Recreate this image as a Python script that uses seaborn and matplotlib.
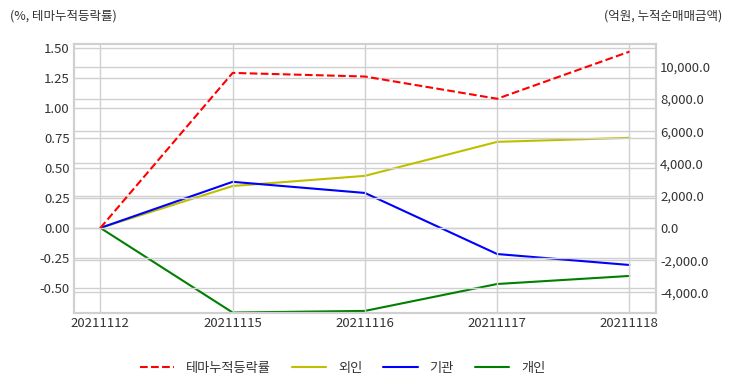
import matplotlib
matplotlib.use('Agg')
import matplotlib.pyplot as plt
import matplotlib.ticker as mticker
import seaborn as sns
import pandas as pd

# 데이터
dates = ['20211112', '20211115', '20211116', '20211117', '20211118']
theme_rate = [0.0, 1.29, 1.26, 1.075, 1.467]
foreign = [0.0, 2600.0, 3230.0, 5340.0, 5590.0]
institution = [0.0, 2860.0, 2170.0, -1620.0, -2300.0]
individual = [0.0, -5250.0, -5150.0, -3480.0, -2980.0]

sns.set_style('whitegrid')
plt.rcParams['font.family'] = ['Noto Sans CJK KR', 'DejaVu Sans']
plt.rcParams['axes.unicode_minus'] = False

df = pd.DataFrame({'date': dates, 'theme': theme_rate, 'foreign': foreign,
                   'inst': institution, 'indiv': individual})
df['x'] = range(len(df))

fig = plt.figure(figsize=(7.32, 3.92), dpi=100)
ax = fig.add_axes([0.101, 0.2015, 0.795, 0.687])
ax2 = ax.twinx()

grid_c = '#d0d0d0'
txt_c = '#333333'

sns.lineplot(data=df, x='x', y='theme', ax=ax, color='red', linestyle='--',
             linewidth=1.5, label='테마누적등락률', legend=False)
sns.lineplot(data=df, x='x', y='foreign', ax=ax2, color='y', linewidth=1.5,
             label='외인', legend=False)
sns.lineplot(data=df, x='x', y='inst', ax=ax2, color='blue', linewidth=1.5,
             label='기관', legend=False)
sns.lineplot(data=df, x='x', y='indiv', ax=ax2, color='green', linewidth=1.5,
             label='개인', legend=False)

ax.set_xlim(-0.2, 4.2)
ax.set_ylim(-0.708, 1.533)
ax2.set_ylim(-5280, 11430)
ax.set_xticks(df['x'])
ax.set_xticklabels(dates)
ax.yaxis.set_major_locator(mticker.MultipleLocator(0.25))
ax.yaxis.set_major_formatter(mticker.FormatStrFormatter('%.2f'))
ax2.yaxis.set_major_locator(mticker.MultipleLocator(2000))
ax2.yaxis.set_major_formatter(mticker.FuncFormatter(lambda v, p: f'{v:,.1f}'))
ax.set_xlabel('')
ax.set_ylabel('')
ax2.set_ylabel('')

for a in (ax, ax2):
    a.grid(True, color=grid_c, linewidth=1)
    a.tick_params(labelsize=9.5, colors=txt_c, length=0, pad=3)
    for s in a.spines.values():
        s.set_color(grid_c)
        s.set_linewidth(1.5)
ax2.grid(True, axis='y', color=grid_c, linewidth=1)
ax2.grid(False, axis='x')
ax.set_zorder(ax2.get_zorder() + 1)
ax.patch.set_visible(False)

fig.text(0.014, 0.958, '(%, 테마누적등락률)', fontsize=9, color=txt_c, va='center')
fig.text(0.986, 0.958, '(억원, 누적순매매금액)', fontsize=9, color=txt_c, va='center', ha='right')

h1, l1 = ax.get_legend_handles_labels()
h2, l2 = ax2.get_legend_handles_labels()
fig.legend(h1 + h2, l1 + l2, loc='center', bbox_to_anchor=(0.468, 0.06), ncol=4,
           frameon=False, fontsize=9.5, handlelength=2.6, handletextpad=0.9,
           columnspacing=1.6, labelcolor=txt_c)

fig.savefig('out.png', dpi=100)
